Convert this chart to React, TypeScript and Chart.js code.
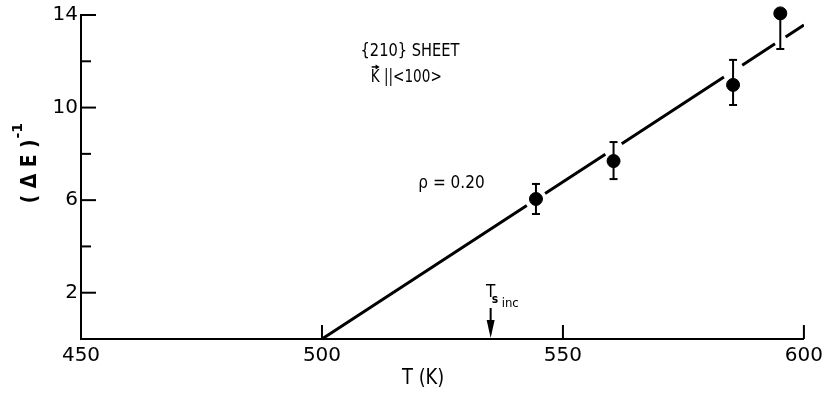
import React, { useEffect, useRef } from 'react';
import { Chart, registerables } from 'chart.js';

Chart.register(...registerables);

// ---- data ----
const temperatures = [544.4, 560.5, 585.3, 595.1];
const invDeltaE = [6.05, 7.69, 10.98, 14.07];
const errUpper = [0.65, 0.82, 1.08, 0];
const errLower = [0.65, 0.78, 0.87, 1.54];
const xTickValues = [450, 500, 550, 600];
const yMajorTicks = [2, 6, 10, 14];
const yMinorTicks = [4, 8, 12];
const fitStartT = 500;
const fitEndT = 600;
const fitSlope = 0.1357; // (ΔE)^-1 per K
const fitGapHalfWidth = [1.9, 1.7, 1.9, 1.1]; // K, gaps of the fit line at each point
const tsInc = 535;
const sheetLabel = '{210} SHEET';
const kLabel = 'K ||<100>';
const rhoLabel = 'ρ = 0.20';
const xTitle = 'T (K)';

const FONT = "'DejaVu Sans', sans-serif";

function fitValue(t: number) {
  return fitSlope * (t - fitStartT);
}

function buildFitLine() {
  const pts: { x: number; y: number | null }[] = [{ x: fitStartT, y: fitValue(fitStartT) }];
  temperatures.forEach((t, i) => {
    const g = fitGapHalfWidth[i];
    pts.push({ x: t - g, y: fitValue(t - g) });
    pts.push({ x: t, y: null });
    pts.push({ x: t + g, y: fitValue(t + g) });
  });
  pts.push({ x: fitEndT, y: fitValue(fitEndT) });
  return pts;
}

function squeezedText(
  ctx: CanvasRenderingContext2D,
  text: string,
  x: number,
  y: number,
  font: string,
  sx: number,
  align: CanvasTextAlign = 'left'
) {
  ctx.save();
  ctx.font = font;
  ctx.textAlign = align;
  ctx.textBaseline = 'middle';
  ctx.translate(x, y);
  ctx.scale(sx, 1);
  ctx.fillText(text, 0, 0);
  ctx.restore();
}

const decorPlugin = {
  id: 'decor',
  afterDatasetsDraw(chart: any) {
    const ctx = chart.ctx as CanvasRenderingContext2D;
    const xs = chart.scales.x;
    const ys = chart.scales.y;
    const area = chart.chartArea;
    ctx.save();
    ctx.strokeStyle = '#000';
    ctx.fillStyle = '#000';

    // inward tick marks on y axis
    ctx.lineWidth = 2;
    yMajorTicks.forEach((v) => {
      const y = ys.getPixelForValue(v);
      ctx.beginPath();
      ctx.moveTo(area.left, y);
      ctx.lineTo(area.left + 15, y);
      ctx.stroke();
    });
    yMinorTicks.forEach((v) => {
      const y = ys.getPixelForValue(v);
      ctx.beginPath();
      ctx.moveTo(area.left, y);
      ctx.lineTo(area.left + 10, y);
      ctx.stroke();
    });
    // inward tick marks on x axis
    xTickValues.slice(1).forEach((v) => {
      const x = xs.getPixelForValue(v);
      ctx.beginPath();
      ctx.moveTo(x, area.bottom);
      ctx.lineTo(x, area.bottom - 14);
      ctx.stroke();
    });

    // error bars
    ctx.lineWidth = 2;
    temperatures.forEach((t, i) => {
      const x = xs.getPixelForValue(t);
      const yTop = ys.getPixelForValue(invDeltaE[i] + errUpper[i]);
      const yBot = ys.getPixelForValue(invDeltaE[i] - errLower[i]);
      ctx.beginPath();
      ctx.moveTo(x, yTop);
      ctx.lineTo(x, yBot);
      ctx.stroke();
      const cap = 4;
      if (errUpper[i] > 0) {
        ctx.beginPath();
        ctx.moveTo(x - cap, yTop);
        ctx.lineTo(x + cap, yTop);
        ctx.stroke();
      }
      if (errLower[i] > 0) {
        ctx.beginPath();
        ctx.moveTo(x - cap, yBot);
        ctx.lineTo(x + cap, yBot);
        ctx.stroke();
      }
    });

    // annotation texts
    squeezedText(ctx, sheetLabel, xs.getPixelForValue(508), ys.getPixelForValue(12.4), `17px ${FONT}`, 0.86);
    const kx = xs.getPixelForValue(510.1);
    const ky = ys.getPixelForValue(11.28);
    squeezedText(ctx, kLabel, kx, ky, `17px ${FONT}`, 0.8);
    // vector arrow over K
    ctx.lineWidth = 1.5;
    ctx.beginPath();
    ctx.moveTo(kx + 1, ky - 11);
    ctx.lineTo(kx + 7, ky - 11);
    ctx.stroke();
    ctx.beginPath();
    ctx.moveTo(kx + 9, ky - 11);
    ctx.lineTo(kx + 5, ky - 13.5);
    ctx.lineTo(kx + 5, ky - 8.5);
    ctx.closePath();
    ctx.fill();

    squeezedText(ctx, rhoLabel, xs.getPixelForValue(520), ys.getPixelForValue(6.74), `18px ${FONT}`, 0.85);

    // T_s,inc arrow
    const ax = xs.getPixelForValue(tsInc);
    const ab = area.bottom - 1;
    ctx.lineWidth = 2;
    ctx.beginPath();
    ctx.moveTo(ax, ab - 30);
    ctx.lineTo(ax, ab - 14);
    ctx.stroke();
    ctx.beginPath();
    ctx.moveTo(ax - 4, ab - 18);
    ctx.lineTo(ax + 4, ab - 18);
    ctx.lineTo(ax, ab);
    ctx.closePath();
    ctx.fill();
    squeezedText(ctx, 'T', ax, ab - 45, `17px ${FONT}`, 0.9, 'center');
    squeezedText(ctx, 's', ax + 1, ab - 38, `bold 12px ${FONT}`, 0.9);
    squeezedText(ctx, 'inc', ax + 11, ab - 34, `13px ${FONT}`, 0.9);

    // x title
    squeezedText(ctx, xTitle, xs.getPixelForValue(521), area.bottom + 40, `21px ${FONT}`, 0.85, 'center');

    // y title (rotated)
    ctx.save();
    ctx.translate(area.left - 53, ys.getPixelForValue(7.6));
    ctx.rotate(-Math.PI / 2);
    ctx.textBaseline = 'middle';
    ctx.font = `bold 22px ${FONT}`;
    const main = '( Δ E )';
    const wMain = ctx.measureText(main).width * 0.85;
    ctx.font = `bold 14px ${FONT}`;
    const sup = '-1';
    const wSup = ctx.measureText(sup).width;
    const total = wMain + wSup + 1;
    ctx.save();
    ctx.translate(-total / 2, 2);
    ctx.scale(0.85, 1);
    ctx.font = `bold 22px ${FONT}`;
    ctx.textAlign = 'left';
    ctx.fillText(main, 0, 0);
    ctx.restore();
    ctx.font = `bold 14px ${FONT}`;
    ctx.textAlign = 'left';
    ctx.fillText(sup, -total / 2 + wMain + 1, -10);
    ctx.restore();

    ctx.restore();
  },
};

export default function App() {
  const canvasRef = useRef<HTMLCanvasElement | null>(null);

  useEffect(() => {
    if (!canvasRef.current) return;
    const chart = new Chart(canvasRef.current, {
      type: 'scatter',
      data: {
        datasets: [
          {
            label: 'data',
            data: temperatures.map((t, i) => ({ x: t, y: invDeltaE[i] })),
            backgroundColor: '#000',
            borderColor: '#000',
            pointRadius: 6.5,
            pointHoverRadius: 6.5,
            showLine: false,
            clip: false,
            order: 0,
          },
          {
            label: 'fit',
            data: buildFitLine() as any,
            type: 'line',
            borderColor: '#000',
            borderWidth: 3,
            pointRadius: 0,
            spanGaps: false,
            fill: false,
            order: 1,
          } as any,
        ],
      },
      options: {
        animation: false,
        responsive: true,
        maintainAspectRatio: false,
        events: [],
        layout: { padding: { top: 15, right: 22, left: 0, bottom: 0 } },
        plugins: {
          legend: { display: false },
          tooltip: { enabled: false },
        },
        scales: {
          x: {
            type: 'linear',
            min: 450,
            max: 600,
            afterBuildTicks: (scale: any) => {
              scale.ticks = xTickValues.map((v) => ({ value: v }));
            },
            afterFit: (scale: any) => {
              scale.height = 59;
            },
            grid: { display: false, drawTicks: false },
            border: { display: true, color: '#000', width: 2 },
            ticks: {
              color: '#000',
              font: { family: FONT, size: 20 },
              padding: 5,
              maxRotation: 0,
              autoSkip: false,
            },
          },
          y: {
            type: 'linear',
            min: 0,
            max: 14,
            afterBuildTicks: (scale: any) => {
              const ticks = [0, ...yMajorTicks, ...yMinorTicks].sort((a, b) => a - b);
              scale.ticks = ticks.map((v) => ({ value: v }));
            },
            afterFit: (scale: any) => {
              scale.width = 81;
            },
            grid: { display: false, drawTicks: false },
            border: { display: true, color: '#000', width: 2 },
            ticks: {
              color: '#000',
              font: { family: FONT, size: 20 },
              padding: 3,
              autoSkip: false,
              callback: (v: any) => (yMajorTicks.includes(Number(v)) ? String(v) : ''),
            },
          },
        },
      },
      plugins: [decorPlugin],
    });
    return () => chart.destroy();
  }, []);

  return (
    <div style={{ position: 'fixed', left: 0, top: 0, width: 828, height: 398, background: '#fff' }}>
      <canvas ref={canvasRef} />
    </div>
  );
}
